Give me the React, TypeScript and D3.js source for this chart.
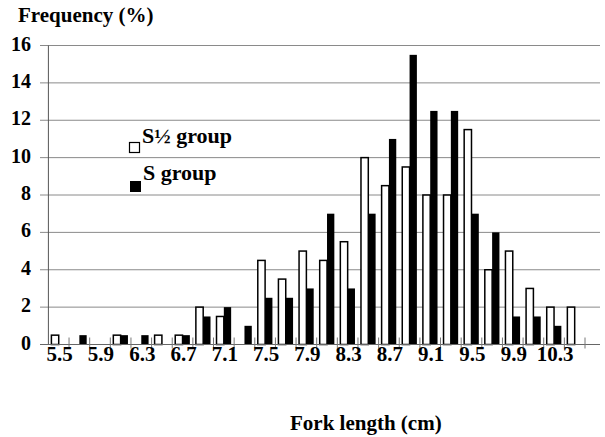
import React from "react";
import * as d3 from "d3";

const categories = ["5.5","5.7","5.9","6.1","6.3","6.5","6.7","6.9","7.1","7.3","7.5","7.7","7.9","8.1","8.3","8.5","8.7","8.9","9.1","9.3","9.5","9.7","9.9","10.1","10.3","10.5"];
const halfGroup = [0.5,0,0,0.5,0,0.5,0.5,2,1.5,0,4.5,3.5,5,4.5,5.5,10,8.5,9.5,8,8,11.5,4,5,3,2,2];
const sGroup = [0,0.5,0,0.5,0.5,0,0.5,1.5,2,1,2.5,2.5,3,7,3,7,11,15.5,12.5,12.5,7,6,1.5,1.5,1,0];
const tickLabels = ["5.5","5.9","6.3","6.7","7.1","7.5","7.9","8.3","8.7","9.1","9.5","9.9","10.3"];
const yTicks = [0,2,4,6,8,10,12,14,16];
const seriesKeys = ["half","s"];
const legendLabels = ["S\u00BD group","S group"];

const W = 605, H = 437;
const FONT = "Liberation Serif, Tinos, DejaVu Serif, serif";
const txt: React.CSSProperties = { fontFamily: FONT, fontWeight: 700 };

export default function App() {
  const left = 48.4, right = 585, axisEnd = 600;
  const x = d3.scaleBand<string>().domain(categories).range([left, right]).paddingInner(0).paddingOuter(0);
  const xi = d3.scaleBand<string>().domain(seriesKeys).range([0, x.bandwidth()]).paddingInner(0).paddingOuter(0.41);
  const y = d3.scaleLinear().domain([0, 16]).range([344.5, 45.5]);
  const boundaries = categories.map((c) => (x(c) as number) + x.bandwidth());

  return (
    <svg width={W} height={H} style={{ position: "absolute", left: 0, top: 0, background: "#fff" }}>
      <rect x={0} y={0} width={W} height={H} fill="#fff" />
      {yTicks.filter((t) => t > 0).map((t) => (
        <line key={"g" + t} x1={40} x2={axisEnd} y1={y(t)} y2={y(t)} stroke="#8a8a8a" strokeWidth={1} />
      ))}
      <line x1={left} x2={left} y1={y(16)} y2={y(0)} stroke="#555" strokeWidth={1} />
      {categories.map((c, i) => (
        <g key={"b" + c}>
          {halfGroup[i] > 0 && (
            <rect
              x={(x(c) as number) + (xi("half") as number)}
              y={y(halfGroup[i])}
              width={xi.bandwidth()}
              height={y(0) - y(halfGroup[i])}
              fill="#fff"
              stroke="#000"
              strokeWidth={1.5}
            />
          )}
          {sGroup[i] > 0 && (
            <rect
              x={(x(c) as number) + (xi("s") as number)}
              y={y(sGroup[i])}
              width={xi.bandwidth()}
              height={y(0) - y(sGroup[i])}
              fill="#000"
            />
          )}
        </g>
      ))}
      <line x1={40} x2={axisEnd} y1={y(0)} y2={y(0)} stroke="#666" strokeWidth={1} />
      {boundaries.map((b, i) => (
        <line key={"t" + i} x1={b} x2={b} y1={y(0) - 7} y2={y(0) + 4} stroke="#777" strokeWidth={1} />
      ))}
      {yTicks.map((t) => (
        <text key={"yl" + t} x={31} y={y(t) + 5} textAnchor="end" style={txt} fontSize={20}>
          {t}
        </text>
      ))}
      {categories.filter((c) => tickLabels.includes(c)).map((c) => (
        <text key={"xl" + c} x={(x(c) as number) + x.bandwidth() / 2 + 1} y={361} textAnchor="middle" style={txt} fontSize={21}>
          {c}
        </text>
      ))}
      <text x={18} y={22} style={txt} fontSize={21}>Frequency (%)</text>
      <text x={290} y={430} style={txt} fontSize={21}>Fork length (cm)</text>
      <rect x={129.5} y={142.5} width={10} height={10} fill="#fff" stroke="#000" strokeWidth={1.2} />
      <text x={142} y={143} style={txt} fontSize={22}>{legendLabels[0]}</text>
      <rect x={130} y={181} width={11} height={11} fill="#000" />
      <text x={143} y={180} style={txt} fontSize={22}>{legendLabels[1]}</text>
    </svg>
  );
}
